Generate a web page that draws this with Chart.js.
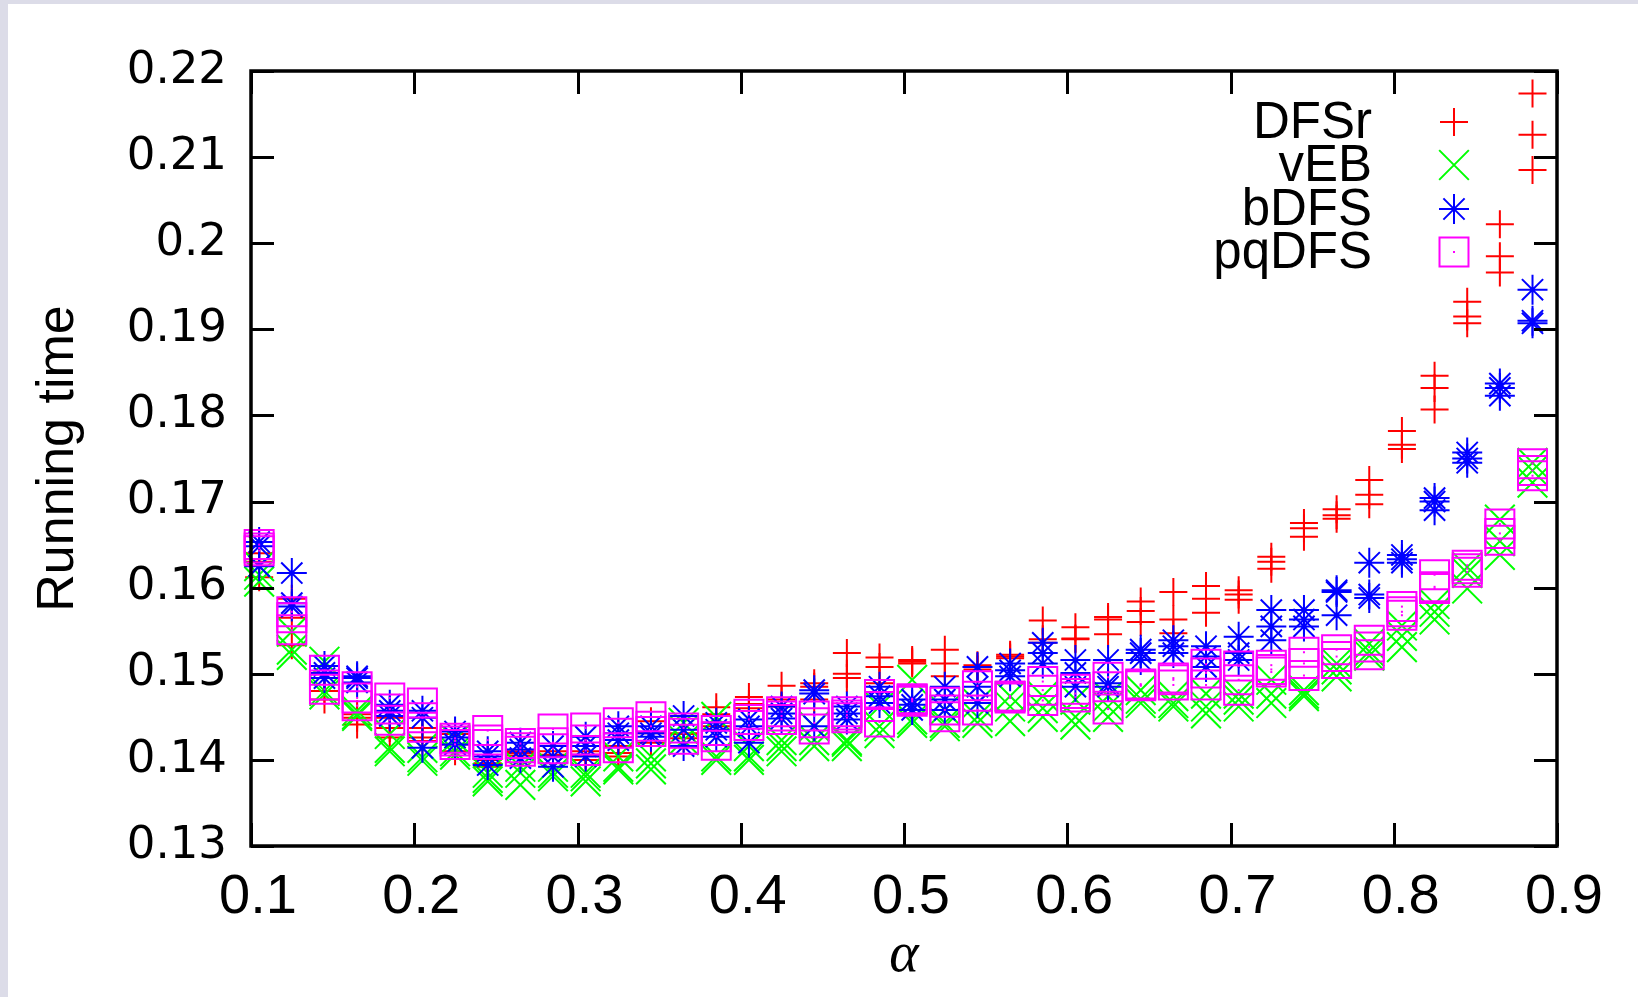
<!DOCTYPE html>
<html>
<head>
<meta charset="utf-8">
<title>Running time vs alpha</title>
<script src="https://cdn.jsdelivr.net/npm/chart.js@4.4.1/dist/chart.umd.min.js"></script>
<style>
  html, body { margin: 0; padding: 0; background: #dcdce8; overflow: hidden; }
  #wrap { position: absolute; left: 8px; top: 4px; width: 1630px; height: 993px; background: #fff; }
</style>
</head>
<body>
<div id="wrap"><canvas id="chart" width="1630" height="993"></canvas></div>
<script>
// valores de alpha (eje x)
const alphas = [0.105, 0.125, 0.145, 0.165, 0.185, 0.205, 0.225, 0.245, 0.265, 0.285,
                0.305, 0.325, 0.345, 0.365, 0.385, 0.405, 0.425, 0.445, 0.465, 0.485,
                0.505, 0.525, 0.545, 0.565, 0.585, 0.605, 0.625, 0.645, 0.665, 0.685,
                0.705, 0.725, 0.745, 0.765, 0.785, 0.805, 0.825, 0.845, 0.865, 0.885];

// tres ejecuciones por cada alpha
const dfsrRuns = [
  [0.1640, 0.1630, 0.1612], [0.1587, 0.1565, 0.1533], [0.1500, 0.1480, 0.1470], [0.1453, 0.1449, 0.1441],
  [0.1449, 0.1437, 0.1426], [0.1437, 0.1426, 0.1422], [0.1430, 0.1418, 0.1410], [0.1400, 0.1396, 0.1392],
  [0.1410, 0.1408, 0.1405], [0.1410, 0.1406, 0.1404], [0.1410, 0.1406, 0.1400], [0.1416, 0.1408, 0.1404],
  [0.1445, 0.1431, 0.1420], [0.1431, 0.1430, 0.1425], [0.1461, 0.1453, 0.1439], [0.1473, 0.1465, 0.1460],
  [0.1486, 0.1470, 0.1462], [0.1489, 0.1485, 0.1470], [0.1524, 0.1500, 0.1495], [0.1519, 0.1508, 0.1489],
  [0.1516, 0.1514, 0.1512], [0.1528, 0.1512, 0.1497], [0.1510, 0.1508, 0.1505], [0.1522, 0.1520, 0.1518],
  [0.1562, 0.1540, 0.1536], [0.1554, 0.1541, 0.1540], [0.1566, 0.1563, 0.1546], [0.1584, 0.1573, 0.1560],
  [0.1595, 0.1563, 0.1547], [0.1602, 0.1587, 0.1571], [0.1597, 0.1592, 0.1586], [0.1636, 0.1630, 0.1622],
  [0.1675, 0.1669, 0.1659], [0.1691, 0.1684, 0.1680], [0.1725, 0.1708, 0.1697], [0.1782, 0.1766, 0.1761],
  [0.1846, 0.1832, 0.1807], [0.1932, 0.1915, 0.1907], [0.2022, 0.1985, 0.1966], [0.2174, 0.2126, 0.2085]
];

const vebRuns = [
  [0.1625, 0.1615, 0.1607], [0.1549, 0.1528, 0.1522], [0.1514, 0.1480, 0.1476], [0.1457, 0.1453, 0.1451],
  [0.1430, 0.1414, 0.1410], [0.1414, 0.1403, 0.1399], [0.1424, 0.1410, 0.1406], [0.1385, 0.1379, 0.1375],
  [0.1392, 0.1385, 0.1371], [0.1392, 0.1385, 0.1381], [0.1385, 0.1381, 0.1375], [0.1404, 0.1392, 0.1389],
  [0.1404, 0.1396, 0.1389], [0.1443, 0.1435, 0.1423], [0.1450, 0.1404, 0.1400], [0.1416, 0.1404, 0.1400],
  [0.1423, 0.1416, 0.1410], [0.1439, 0.1423, 0.1416], [0.1423, 0.1421, 0.1416], [0.1462, 0.1439, 0.1431],
  [0.1493, 0.1447, 0.1443], [0.1458, 0.1443, 0.1439], [0.1466, 0.1450, 0.1443], [0.1474, 0.1462, 0.1445],
  [0.1474, 0.1460, 0.1450], [0.1470, 0.1450, 0.1441], [0.1474, 0.1462, 0.1450], [0.1481, 0.1471, 0.1466],
  [0.1474, 0.1466, 0.1462], [0.1477, 0.1462, 0.1454], [0.1477, 0.1470, 0.1462], [0.1493, 0.1477, 0.1466],
  [0.1481, 0.1477, 0.1474], [0.1512, 0.1505, 0.1497], [0.1535, 0.1526, 0.1521], [0.1556, 0.1544, 0.1531],
  [0.1581, 0.1572, 0.1563], [0.1624, 0.1617, 0.1599], [0.1679, 0.1654, 0.1638], [0.1745, 0.1736, 0.1722]
];

const bdfsRuns = [
  [0.1653, 0.1648, 0.1625], [0.1617, 0.1582, 0.1578], [0.1509, 0.1501, 0.1495], [0.1497, 0.1495, 0.1490],
  [0.1464, 0.1457, 0.1451], [0.1457, 0.1449, 0.1414], [0.1433, 0.1426, 0.1418], [0.1410, 0.1404, 0.1394],
  [0.1420, 0.1412, 0.1402], [0.1416, 0.1404, 0.1392], [0.1427, 0.1416, 0.1404], [0.1439, 0.1431, 0.1423],
  [0.1439, 0.1431, 0.1427], [0.1451, 0.1435, 0.1416], [0.1443, 0.1435, 0.1427], [0.1447, 0.1439, 0.1420],
  [0.1462, 0.1454, 0.1448], [0.1481, 0.1477, 0.1439], [0.1462, 0.1454, 0.1447], [0.1485, 0.1474, 0.1466],
  [0.1470, 0.1464, 0.1458], [0.1485, 0.1470, 0.1458], [0.1508, 0.1485, 0.1466], [0.1512, 0.1504, 0.1497],
  [0.1536, 0.1524, 0.1512], [0.1516, 0.1501, 0.1485], [0.1516, 0.1489, 0.1485], [0.1528, 0.1524, 0.1516],
  [0.1539, 0.1532, 0.1524], [0.1532, 0.1520, 0.1508], [0.1543, 0.1524, 0.1516], [0.1574, 0.1555, 0.1539],
  [0.1574, 0.1563, 0.1555], [0.1597, 0.1595, 0.1568], [0.1629, 0.1592, 0.1588], [0.1638, 0.1633, 0.1629],
  [0.1704, 0.1700, 0.1690], [0.1757, 0.1750, 0.1745], [0.1837, 0.1832, 0.1823], [0.1946, 0.1910, 0.1907]
];

const pqdfsRuns = [
  [0.1650, 0.1646, 0.1643], [0.1572, 0.1565, 0.1551], [0.1504, 0.1487, 0.1482], [0.1485, 0.1472, 0.1463],
  [0.1472, 0.1459, 0.1446], [0.1466, 0.1449, 0.1438], [0.1425, 0.1422, 0.1418], [0.1434, 0.1423, 0.1418],
  [0.1419, 0.1414, 0.1410], [0.1436, 0.1420, 0.1413], [0.1437, 0.1423, 0.1411], [0.1443, 0.1431, 0.1414],
  [0.1450, 0.1439, 0.1433], [0.1437, 0.1431, 0.1424], [0.1434, 0.1427, 0.1417], [0.1453, 0.1447, 0.1440],
  [0.1456, 0.1451, 0.1447], [0.1451, 0.1443, 0.1436], [0.1456, 0.1452, 0.1449], [0.1476, 0.1462, 0.1444],
  [0.1471, 0.1470, 0.1468], [0.1467, 0.1458, 0.1450], [0.1486, 0.1474, 0.1458], [0.1474, 0.1474, 0.1472],
  [0.1491, 0.1481, 0.1469], [0.1482, 0.1477, 0.1473], [0.1496, 0.1485, 0.1459], [0.1488, 0.1487, 0.1486],
  [0.1495, 0.1493, 0.1487], [0.1511, 0.1501, 0.1487], [0.1509, 0.1493, 0.1481], [0.1510, 0.1505, 0.1502],
  [0.1525, 0.1512, 0.1498], [0.1528, 0.1520, 0.1512], [0.1539, 0.1531, 0.1522], [0.1578, 0.1572, 0.1568],
  [0.1615, 0.1601, 0.1599], [0.1626, 0.1622, 0.1618], [0.1674, 0.1663, 0.1655], [0.1744, 0.1736, 0.1730]
];

const seriesNames = ['DFSr', 'vEB', 'bDFS', 'pqDFS'];
const seriesColors = ['#ff0000', '#00ff00', '#0000ff', '#ff00ff'];
const xTicks = [0.1, 0.2, 0.3, 0.4, 0.5, 0.6, 0.7, 0.8, 0.9];
const yTicks = [0.13, 0.14, 0.15, 0.16, 0.17, 0.18, 0.19, 0.2, 0.21, 0.22];

// convierte las ejecuciones en puntos {x, y}
function toPoints(runs) {
  const pts = [];
  runs.forEach((vals, i) => {
    vals.forEach(v => pts.push({ x: alphas[i], y: v }));
  });
  return pts;
}

const markerStyles = [
  { pointStyle: 'cross', radius: 14 },
  { pointStyle: 'crossRot', radius: 21 },
  { pointStyle: 'star', radius: 15 },
  { pointStyle: 'rect', radius: 20.5 }
];

const allRuns = [dfsrRuns, vebRuns, bdfsRuns, pqdfsRuns];
const datasets = allRuns.map((runs, k) => ({
  label: seriesNames[k],
  data: toPoints(runs),
  showLine: false,
  pointStyle: markerStyles[k].pointStyle,
  pointRadius: markerStyles[k].radius,
  pointHoverRadius: markerStyles[k].radius,
  pointBorderWidth: 2,
  pointBorderColor: seriesColors[k],
  pointBackgroundColor: 'rgba(0,0,0,0)',
  borderColor: seriesColors[k],
  backgroundColor: 'rgba(0,0,0,0)',
  order: 3 - k,
  clip: false
}));

// marco estilo gnuplot con marcas hacia dentro
const framePlugin = {
  id: 'frame',
  afterDraw(chart) {
    const { ctx, chartArea: a, scales } = chart;
    ctx.save();
    ctx.strokeStyle = '#000';
    ctx.lineWidth = 3;
    const len = 23;
    ctx.beginPath();
    yTicks.forEach(v => {
      const py = Math.round(scales.y.getPixelForValue(v)) + 0.5;
      ctx.moveTo(a.left, py); ctx.lineTo(a.left + len, py);
      ctx.moveTo(a.right, py); ctx.lineTo(a.right - len, py);
    });
    xTicks.forEach(v => {
      const px = Math.round(scales.x.getPixelForValue(v)) + 0.5;
      ctx.moveTo(px, a.bottom); ctx.lineTo(px, a.bottom - len);
      ctx.moveTo(px, a.top); ctx.lineTo(px, a.top + len);
    });
    ctx.stroke();
    ctx.lineWidth = 3.5;
    ctx.strokeRect(a.left, a.top, a.right - a.left, a.bottom - a.top);
    ctx.restore();
  }
};

// punto central de los cuadrados (como en gnuplot)
const centerDotPlugin = {
  id: 'centerDot',
  afterDatasetsDraw(chart) {
    const ctx = chart.ctx;
    const meta = chart.getDatasetMeta(3);
    ctx.save();
    ctx.fillStyle = seriesColors[3];
    meta.data.forEach(p => ctx.fillRect(p.x - 1, p.y - 1, 2, 2));
    ctx.restore();
  }
};

// leyenda: texto alineado a la derecha y el símbolo a su derecha
const keyPlugin = {
  id: 'key',
  afterDraw(chart) {
    const ctx = chart.ctx;
    const textRight = 1364, markX = 1446, rowY = [118, 161, 205, 248];
    ctx.save();
    ctx.font = '51px "Liberation Sans", Arial, sans-serif';
    ctx.textAlign = 'right';
    ctx.textBaseline = 'middle';
    ctx.fillStyle = '#000';
    seriesNames.forEach((name, k) => {
      ctx.fillText(name, textRight, rowY[k] + 2);
      ctx.strokeStyle = seriesColors[k];
      ctx.fillStyle = 'rgba(0,0,0,0)';
      ctx.lineWidth = 2;
      Chart.helpers.drawPoint(ctx, {
        pointStyle: markerStyles[k].pointStyle,
        radius: markerStyles[k].radius,
        rotation: 0,
        borderWidth: 2
      }, markX, rowY[k]);
      ctx.fillStyle = '#000';
    });
    ctx.fillStyle = seriesColors[3];
    ctx.fillRect(markX - 1, rowY[3] - 1, 2, 2);
    ctx.restore();
  }
};

const fmt = v => String(Number(v.toFixed(2)));

new Chart(document.getElementById('chart'), {
  type: 'scatter',
  data: { datasets: datasets },
  plugins: [centerDotPlugin, framePlugin, keyPlugin],
  options: {
    responsive: false,
    animation: false,
    events: [],
    layout: { padding: { left: 0, top: 67, right: 81, bottom: 0 } },
    plugins: {
      legend: { display: false },
      tooltip: { enabled: false }
    },
    scales: {
      x: {
        type: 'linear',
        min: 0.1,
        max: 0.9,
        afterFit: s => { s.height = 151; },
        afterBuildTicks: s => { s.ticks = xTicks.map(v => ({ value: v })); },
        grid: { display: false, drawTicks: false },
        border: { display: false },
        ticks: {
          padding: 18,
          labelOffset: 7,
          color: '#000',
          font: { family: '"Liberation Sans Narrow", "Liberation Sans", Arial, sans-serif', size: 56 },
          callback: v => fmt(v)
        },
        title: {
          display: true,
          text: 'α',
          color: '#000',
          padding: { top: 0, bottom: 7 },
          font: { family: '"Liberation Serif", "DejaVu Serif", serif', size: 56, style: 'italic' }
        }
      },
      y: {
        type: 'linear',
        min: 0.13,
        max: 0.22,
        afterFit: s => { s.width = 243; },
        afterBuildTicks: s => { s.ticks = yTicks.map(v => ({ value: v })); },
        grid: { display: false, drawTicks: false },
        border: { display: false },
        ticks: {
          padding: 24,
          color: '#000',
          font: { family: '"DejaVu Sans", sans-serif', size: 45 },
          callback: v => fmt(v)
        },
        title: {
          display: true,
          text: 'Running time',
          color: '#000',
          padding: { top: 19, bottom: 0 },
          font: { family: '"Liberation Sans", Arial, sans-serif', size: 52 }
        }
      }
    }
  }
});
</script>
</body>
</html>
